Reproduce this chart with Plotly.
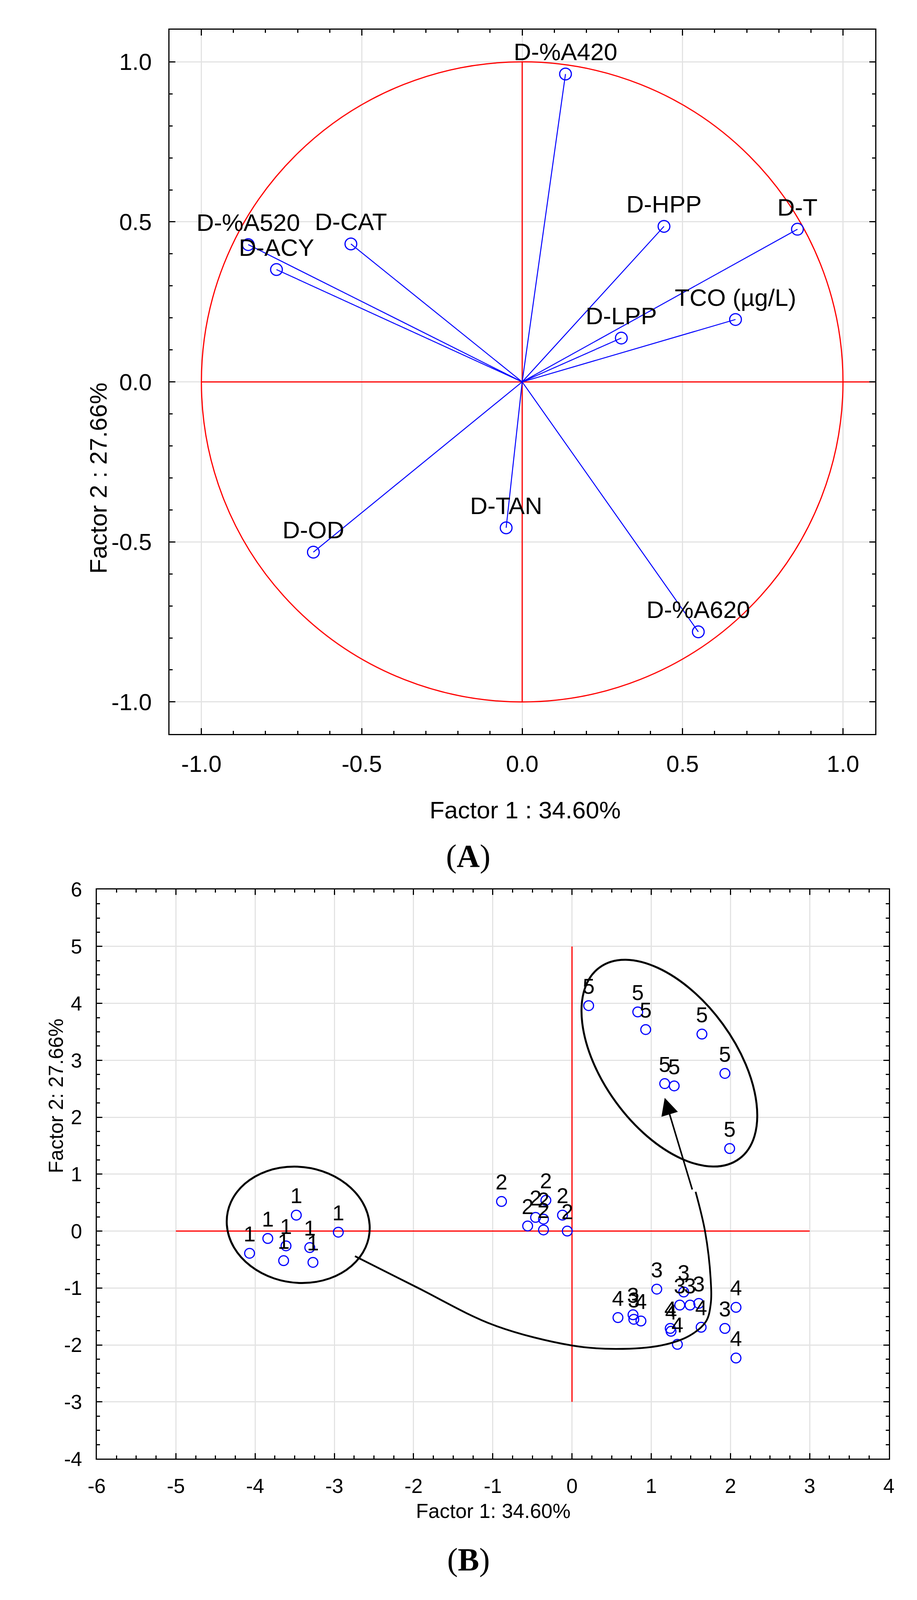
import plotly.graph_objects as go

# ---- (A) loadings of the variables on factor 1 / factor 2 ----
var_names = ["D-%A420", "D-HPP", "D-T", "TCO (µg/L)", "D-LPP", "D-%A620",
             "D-TAN", "D-OD", "D-ACY", "D-%A520", "D-CAT"]
load_f1 = [0.135, 0.442, 0.858, 0.665, 0.309, 0.549, -0.050, -0.651, -0.766, -0.854, -0.534]
load_f2 = [0.962, 0.486, 0.477, 0.195, 0.137, -0.781, -0.456, -0.532, 0.351, 0.429, 0.431]

a_tickvals = [-1.0, -0.5, 0.0, 0.5, 1.0]
a_ticktext = ["-1.0", "-0.5", "0.0", "0.5", "1.0"]

# ---- (B) case scores, labelled by group ----
g1_f1 = [-4.07, -3.84, -3.48, -3.61, -3.64, -3.31, -3.27, -2.95]
g1_f2 = [-0.39, -0.13, 0.28, -0.26, -0.52, -0.29, -0.55, -0.02]
g2_f1 = [-0.89, -0.56, -0.46, -0.36, -0.36, -0.33, -0.12, -0.06]
g2_f2 = [0.52, 0.09, 0.24, 0.02, 0.21, 0.54, 0.28, 0.00]
g3_f1 = [0.77, 0.78, 1.07, 1.41, 1.36, 1.49, 1.60, 1.93]
g3_f2 = [-1.47, -1.55, -1.02, -1.07, -1.30, -1.30, -1.27, -1.71]
g4_f1 = [0.58, 0.87, 1.24, 1.25, 1.33, 1.63, 2.07, 2.07]
g4_f2 = [-1.52, -1.58, -1.71, -1.76, -1.99, -1.69, -1.34, -2.23]
g5_f1 = [0.21, 0.83, 0.93, 1.64, 1.17, 1.29, 1.93, 1.99]
g5_f2 = [3.96, 3.85, 3.54, 3.46, 2.59, 2.55, 2.77, 1.45]
groups = [("1", g1_f1, g1_f2), ("2", g2_f1, g2_f2), ("3", g3_f1, g3_f2),
          ("4", g4_f1, g4_f2), ("5", g5_f1, g5_f2)]

b_xtickvals = [-6, -5, -4, -3, -2, -1, 0, 1, 2, 3, 4]
b_xticktext = ["-6", "-5", "-4", "-3", "-2", "-1", "0", "1", "2", "3", "4"]
b_ytickvals = [-4, -3, -2, -1, 0, 1, 2, 3, 4, 5, 6]
b_yticktext = ["-4", "-3", "-2", "-1", "0", "1", "2", "3", "4", "5", "6"]

# hand-drawn trajectory from group 1 towards group 5
path_f1 = [-2.74, -1.97, -0.99, 0.00, 0.55, 1.12, 1.48, 1.69, 1.75, 1.75, 1.68, 1.56]
path_f2 = [-0.44, -0.98, -1.65, -2.01, -2.07, -2.01, -1.84, -1.59, -1.29, -0.84, -0.01, 0.69]
arrow_tail = (1.52, 0.72)
arrow_tip = (1.17, 2.34)

# ellipses: centre and two conjugate semi-axis vectors (data units)
ell1 = ((-3.456, 0.110), (0.901, 0.0), (-0.05, 1.022))
ell2 = ((1.229, 2.950), (0.881, -1.681), (0.674, 0.687))

W, H = 2348, 4141
SANS = "Liberation Sans, Arial, sans-serif"
SERIF = "Liberation Serif, Times New Roman, serif"
BLUE = "#0000ff"
RED = "#ff0000"
GRID = "#e3e3e3"


def px(x):
    return x / W


def py(y):
    return 1 - y / H


def ellipse_path(c, u, v):
    # four cubic beziers, affine image of a unit circle
    k = 0.5523
    def p(a, b):
        return "%.4f,%.4f" % (c[0] + a * u[0] + b * v[0], c[1] + a * u[1] + b * v[1])
    return ("M" + p(1, 0) +
            " C" + p(1, k) + " " + p(k, 1) + " " + p(0, 1) +
            " C" + p(-k, 1) + " " + p(-1, k) + " " + p(-1, 0) +
            " C" + p(-1, -k) + " " + p(-k, -1) + " " + p(0, -1) +
            " C" + p(k, -1) + " " + p(1, -k) + " " + p(1, 0) + " Z")


fig = go.Figure()

# spokes from the origin to every loading
spoke_x, spoke_y = [], []
for fx, fy in zip(load_f1, load_f2):
    spoke_x += [0, fx, None]
    spoke_y += [0, fy, None]
fig.add_trace(go.Scatter(x=spoke_x, y=spoke_y, mode="lines",
                         line=dict(color=BLUE, width=2.5),
                         xaxis="x", yaxis="y", hoverinfo="skip"))
fig.add_trace(go.Scatter(x=load_f1, y=load_f2, mode="markers+text",
                         text=var_names, textposition="top center",
                         textfont=dict(family=SANS, size=62, color="black"),
                         marker=dict(symbol="circle-open", size=30, color=BLUE,
                                     line=dict(width=3, color=BLUE)),
                         xaxis="x", yaxis="y"))

for lab, gx, gy in groups:
    fig.add_trace(go.Scatter(x=gx, y=gy, mode="markers+text",
                             text=[lab] * len(gx), textposition="top center",
                             textfont=dict(family=SANS, size=55, color="black"),
                             marker=dict(symbol="circle-open", size=25, color=BLUE,
                                         line=dict(width=3, color=BLUE)),
                             xaxis="x2", yaxis="y2"))

fig.add_trace(go.Scatter(x=path_f1, y=path_f2, mode="lines",
                         line=dict(color="black", width=4.5, shape="spline", smoothing=1.0),
                         xaxis="x2", yaxis="y2", hoverinfo="skip"))

shapes = [
    dict(type="circle", xref="x", yref="y", x0=-1, y0=-1, x1=1, y1=1,
         line=dict(color=RED, width=3), layer="between"),
    dict(type="line", xref="x", yref="y", x0=-1, y0=0, x1=1.1, y1=0,
         line=dict(color=RED, width=3), layer="between"),
    dict(type="line", xref="x", yref="y", x0=0, y0=-1, x1=0, y1=1,
         line=dict(color=RED, width=3), layer="between"),
    dict(type="line", xref="x2", yref="y2", x0=-5, y0=0, x1=3, y1=0,
         line=dict(color=RED, width=3), layer="between"),
    dict(type="line", xref="x2", yref="y2", x0=0, y0=-3, x1=0, y1=5,
         line=dict(color=RED, width=3), layer="between"),
    dict(type="path", xref="x2", yref="y2", path=ellipse_path(*ell1),
         line=dict(color="black", width=5), layer="above"),
    dict(type="path", xref="x2", yref="y2", path=ellipse_path(*ell2),
         line=dict(color="black", width=5), layer="above"),
]

annotations = [
    dict(x=arrow_tip[0], y=arrow_tip[1], xref="x2", yref="y2",
         ax=arrow_tail[0], ay=arrow_tail[1], axref="x2", ayref="y2",
         text="", showarrow=True, arrowhead=2, arrowsize=2.2, arrowwidth=4,
         arrowcolor="black", standoff=0),
    dict(text="Factor 1 : 34.60%", x=px(1335), y=py(2065), xref="paper", yref="paper",
         showarrow=False, font=dict(family=SANS, size=62, color="black")),
    dict(text="Factor 2 : 27.66%", x=px(187), y=py(954), xref="paper", yref="paper",
         showarrow=False, textangle=-90, font=dict(family=SANS, size=62, color="black")),
    dict(text="(<b>A</b>)", x=px(1187), y=py(2185), xref="paper", yref="paper",
         showarrow=False, font=dict(family=SERIF, size=82, color="black")),
    dict(text="Factor 1: 34.60%", x=px(1252), y=py(3917), xref="paper", yref="paper",
         showarrow=False, font=dict(family=SANS, size=52, color="black")),
    dict(text="Factor 2: 27.66%", x=px(82), y=py(3011), xref="paper", yref="paper",
         showarrow=False, textangle=-90, font=dict(family=SANS, size=52, color="black")),
    dict(text="(<b>B</b>)", x=px(1187), y=py(4060), xref="paper", yref="paper",
         showarrow=False, font=dict(family=SERIF, size=82, color="black")),
]


def axis_style(rng, tickvals, ticktext, minor_dtick, fsize, major_len, standoff):
    return dict(range=rng, tickmode="array", tickvals=tickvals, ticktext=ticktext,
                ticks="inside", ticklen=major_len, tickwidth=3, tickcolor="black",
                showline=True, linecolor="black", linewidth=3, mirror="ticks",
                showgrid=True, gridcolor=GRID, gridwidth=3, zeroline=False,
                tickfont=dict(family=SANS, size=fsize, color="black"),
                ticklabelstandoff=standoff,
                minor=dict(tickmode="linear", tick0=0, dtick=minor_dtick,
                           ticks="inside", ticklen=8, tickwidth=3,
                           tickcolor="black", showgrid=False))


fig.update_layout(
    width=W, height=H, margin=dict(l=0, r=0, t=0, b=0),
    paper_bgcolor="white", plot_bgcolor="white", showlegend=False,
    xaxis=dict(domain=[px(409), px(2245)], anchor="y",
               **axis_style([-1.1, 1.1], a_tickvals, a_ticktext, 0.1, 60, 15, 22)),
    yaxis=dict(domain=[py(1868), py(40)], anchor="x",
               **axis_style([-1.1, 1.1], a_tickvals, a_ticktext, 0.1, 60, 15, 30)),
    xaxis2=dict(domain=[px(220), px(2281)], anchor="y2",
                **axis_style([-6, 4], b_xtickvals, b_xticktext, 0.25, 52, 14, 22)),
    yaxis2=dict(domain=[py(3750), py(2272)], anchor="x2",
                **axis_style([-4, 6], b_ytickvals, b_yticktext, 0.25, 52, 14, 24)),
    shapes=shapes,
    annotations=annotations,
)

fig.write_html("out.html")
